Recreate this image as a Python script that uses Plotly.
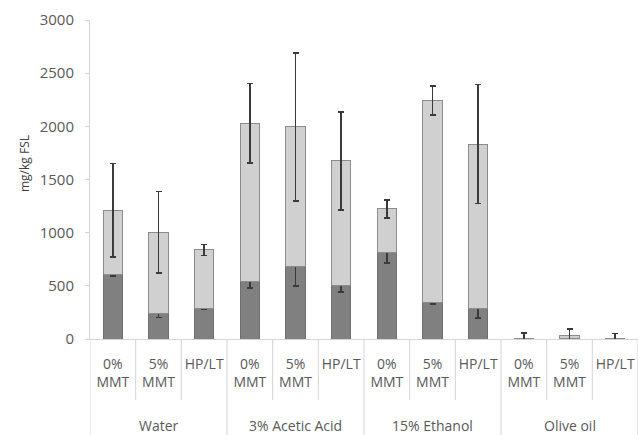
import plotly.graph_objects as go

groups = ["Water", "3% Acetic Acid", "15% Ethanol", "Olive oil"]
subcats = ["0%<br>MMT", "5%<br>MMT", "HP/LT"]

dark_vals = [605, 243, 290, 542, 680, 504, 810, 340, 287, 0, 5, 0]
dark_err = [10, 40, 10, 60, 180, 60, 95, 10, 90, 0, 0, 0]
light_vals = [605, 761, 548, 1487, 1314, 1172, 415, 1903, 1546, 5, 30, 3]
light_err = [440, 383, 52, 375, 696, 460, 85, 137, 560, 50, 62, 50]
y_ticks = [0, 500, 1000, 1500, 2000, 2500, 3000]

n_sub = len(subcats)
x_pos = list(range(len(groups) * n_sub))
tick_text = [s for _ in groups for s in subcats]

FONT = "Open Sans"
TXT = "#595959"
AX = "#d4d4d4"

W, H = 638, 435
ML, MR, MT, MB = 90, 0, 20, 96
PLOT_W = W - ML - MR
PLOT_H = H - MT - MB

fig = go.Figure()
fig.add_trace(go.Bar(
    x=x_pos, y=dark_vals,
    marker=dict(color="#808080", line=dict(color="#6e6e6e", width=1)),
    error_y=dict(type="data", array=dark_err, color="#3a3a3a", thickness=1.7, width=3),
    showlegend=False,
))
fig.add_trace(go.Bar(
    x=x_pos, y=light_vals,
    marker=dict(color="#d0d0d0", line=dict(color="#8c8c8c", width=1)),
    error_y=dict(type="data", array=light_err, color="#3a3a3a", thickness=1.7, width=3),
    showlegend=False,
))

def py(pixels_below):
    return -pixels_below / PLOT_H

shapes = []
for i in range(len(x_pos) + 1):
    xb = i - 0.5
    is_group = (i % n_sub == 0)
    shapes.append(dict(type="line", xref="x", yref="paper", x0=xb, x1=xb,
                       y0=0, y1=py(96 if is_group else 61),
                       line=dict(color=AX, width=1)))

annotations = []
for gi, g in enumerate(groups):
    annotations.append(dict(text=g, xref="x", yref="paper",
                            x=gi * n_sub + (n_sub - 1) / 2, y=py(86),
                            showarrow=False, xanchor="center", yanchor="middle",
                            font=dict(size=14, color=TXT, family=FONT)))
annotations.append(dict(text="mg/kg FSL", xref="paper", yref="paper",
                        x=(24 - ML) / PLOT_W, y=(H - MB - 164) / PLOT_H,
                        xanchor="center", yanchor="middle",
                        textangle=-90, showarrow=False,
                        font=dict(size=12, color="#404040", family=FONT)))

fig.update_layout(
    width=W, height=H,
    margin=dict(l=ML, r=MR, t=MT, b=MB),
    barmode="stack", bargap=0.58,
    plot_bgcolor="white", paper_bgcolor="white",
    font=dict(family=FONT, color=TXT, size=14),
    shapes=shapes, annotations=annotations,
    yaxis=dict(range=[0, 3000], tickvals=y_ticks, automargin=False,
               showgrid=False, zeroline=False, showline=True, linecolor=AX,
               ticks="outside", ticklen=4, tickcolor=AX, ticklabelstandoff=8,
               tickfont=dict(size=15)),
    xaxis=dict(range=[-0.5, len(x_pos) - 0.5], tickvals=x_pos, ticktext=tick_text,
               automargin=False, showgrid=False, zeroline=False,
               showline=True, linecolor=AX, ticks="", ticklabelstandoff=12,
               tickfont=dict(size=14)),
)

fig.write_html("out.html", config={"displayModeBar": False},
               post_script="document.body.style.margin='0';")
